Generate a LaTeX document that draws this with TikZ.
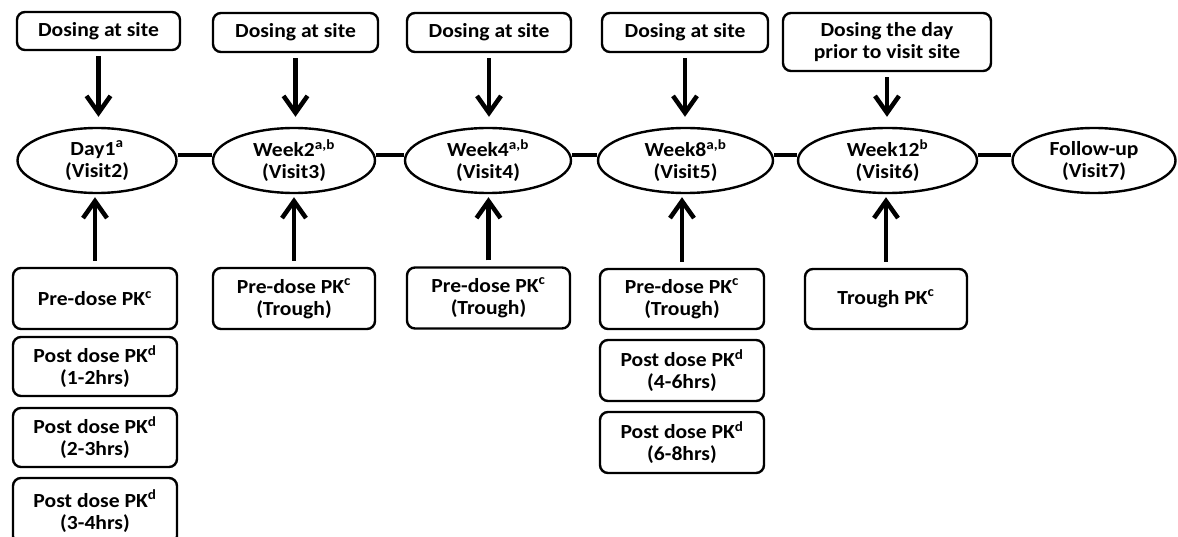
\documentclass[tikz,border=0pt]{standalone}
\usepackage{fontspec}
\setmainfont[FakeStretch=1.08]{Carlito}
\usetikzlibrary{arrows.meta,shapes.geometric}
\tikzset{
  rbox/.style={draw, rounded corners=8pt, line width=2.4pt, align=center, inner sep=0pt,
    font=\fontsize{20pt}{22pt}\selectfont\bfseries},
  visit/.style={draw, ellipse, line width=2.4pt, align=center, inner sep=0pt, minimum height=65pt,
    font=\fontsize{20pt}{22pt}\selectfont\bfseries},
  arr/.style={line width=4.5pt, -{Straight Barb[length=17pt,width=24pt,line width=4.5pt]}},
  link/.style={line width=3.5pt}
}
\begin{document}
\begin{tikzpicture}[x=1pt,y=-1pt]
\useasboundingbox (0,0) rectangle (1178,537);
% top dosing boxes
\node[rbox, minimum width=163pt, minimum height=38pt] (t1) at (98.5,31) {Dosing at site};
\node[rbox, minimum width=165pt, minimum height=39pt] (t2) at (295.5,32.5) {Dosing at site};
\node[rbox, minimum width=164pt, minimum height=39pt] (t3) at (489,32.5) {Dosing at site};
\node[rbox, minimum width=166pt, minimum height=39pt] (t4) at (685,32.5) {Dosing at site};
\node[rbox, minimum width=208pt, minimum height=58pt] (t5) at (887,42) {Dosing the day\\prior to visit site};
% visits
\node[visit, minimum width=159pt] (e1) at (97,160.5) {Day1\textsuperscript{a}\\(Visit2)};
\node[visit, minimum width=162pt] (e2) at (294,160.5) {Week2\textsuperscript{a,b}\\(Visit3)};
\node[visit, minimum width=166pt] (e3) at (488,160.5) {Week4\textsuperscript{a,b}\\(Visit4)};
\node[visit, minimum width=175pt] (e4) at (685.5,160.5) {Week8\textsuperscript{a,b}\\(Visit5)};
\node[visit, minimum width=179pt] (e5) at (887.5,160.5) {Week12\textsuperscript{b}\\(Visit6)};
\node[visit, minimum width=163pt] (e6) at (1094,160.5) {Follow-up\\(Visit7)};
% links
\foreach \a/\b in {e1/e2,e2/e3,e3/e4,e4/e5,e5/e6}
  \draw[link] ([yshift=5.5pt]\a.east) -- ([yshift=5.5pt]\b.west);
% bottom PK boxes
\node[rbox, minimum width=164pt, minimum height=61pt] (b1a) at (95,298.5) {Pre-dose PK\textsuperscript{c}};
\node[rbox, minimum width=164pt, minimum height=59pt] (b1b) at (95,366.5) {Post dose PK\textsuperscript{d}\\(1-2hrs)};
\node[rbox, minimum width=164pt, minimum height=59pt] (b1c) at (95,437.5) {Post dose PK\textsuperscript{d}\\(2-3hrs)};
\node[rbox, minimum width=164pt, minimum height=66pt] (b1d) at (95,511) {Post dose PK\textsuperscript{d}\\(3-4hrs)};
\node[rbox, minimum width=162pt, minimum height=61pt] (b2a) at (294,298.5) {Pre-dose PK\textsuperscript{c}\\(Trough)};
\node[rbox, minimum width=163pt, minimum height=61pt] (b3a) at (488.5,298) {Pre-dose PK\textsuperscript{c}\\(Trough)};
\node[rbox, minimum width=164pt, minimum height=60pt] (b4a) at (682,299) {Pre-dose PK\textsuperscript{c}\\(Trough)};
\node[rbox, minimum width=164pt, minimum height=61pt] (b4b) at (682,370.5) {Post dose PK\textsuperscript{d}\\(4-6hrs)};
\node[rbox, minimum width=164pt, minimum height=61pt] (b4c) at (682,442.5) {Post dose PK\textsuperscript{d}\\(6-8hrs)};
\node[rbox, minimum width=162pt, minimum height=60pt] (b5a) at (886,299) {Trough PK\textsuperscript{c}};
% arrows down
\foreach \i in {1,...,5}
  \draw[arr, shorten <=5pt, shorten >=10pt] (t\i.south) -- (t\i.south |- e\i.north);
% arrows up
\foreach \b/\e in {b1a/e1,b2a/e2,b3a/e3,b4a/e4,b5a/e5}
  \draw[arr, shorten <=6pt, shorten >=3pt] (\b.north) -- (\b.north |- \e.south);
\end{tikzpicture}
\end{document}
